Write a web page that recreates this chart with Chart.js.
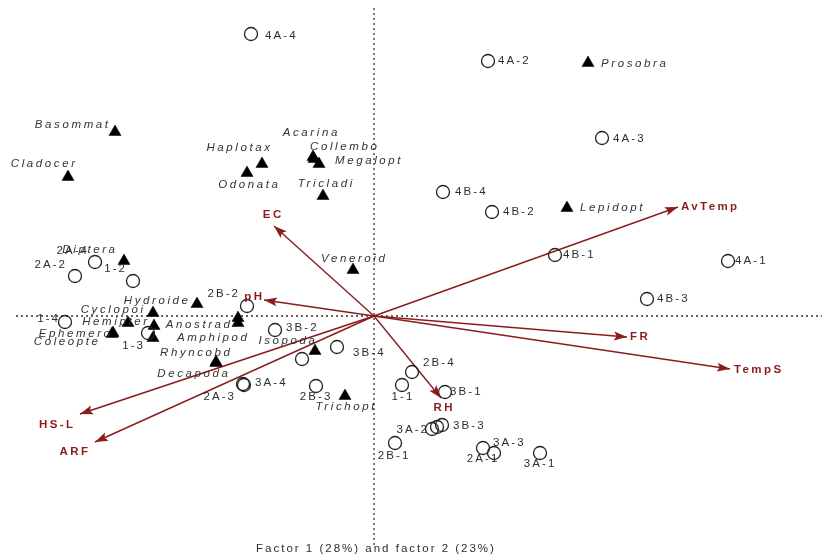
<!DOCTYPE html>
<html><head><meta charset="utf-8">
<script src="https://cdn.jsdelivr.net/npm/chart.js@4.4.0/dist/chart.umd.min.js"></script>
<style>html,body{margin:0;padding:0;background:#fff}#wrap{width:825px;height:556px}</style>
</head><body><div id="wrap"><canvas id="c" width="825" height="556"></canvas></div>
<script>
// ---- data (ordination scores) ----
const siteNames = ['4A-4','4A-2','4A-3','4B-4','4B-2','4B-1','4A-1','4B-3','2A-4','2A-2','1-2','2B-2','1-4','1-3','3B-2','','3B-4','3A-4','2A-3','2B-3','1-1','2B-4','3B-1','3B-3','3A-2','','2B-1','2A-1','3A-3','3A-1'];
const siteX = [-1.23,1.14,2.28,0.69,1.18,1.81,3.54,2.73,-2.79,-2.99,-2.41,-1.27,-3.09,-2.26,-0.99,-0.72,-0.37,-1.31,-1.30,-0.58,0.28,0.38,0.71,0.68,0.58,0.63,0.21,1.09,1.20,1.66];
const siteY = [2.82,2.55,1.78,1.24,1.04,0.61,0.55,0.17,0.54,0.40,0.35,0.10,-0.06,-0.17,-0.14,-0.43,-0.31,-0.68,-0.69,-0.70,-0.69,-0.56,-0.76,-1.09,-1.13,-1.11,-1.27,-1.32,-1.37,-1.37];

const speciesNames = ['Basommat','Cladocer','Haplotax','Odonata','Acarina','Collembo','Megalopt','Tricladi','Veneroid','Prosobra','Lepidopt','Diptera','Hydroide','Cyclopoi','','Hemipter','Ephemero','Coleopte','','Anostrad','Amphipod','Rhyncobd','Decapoda','Isopoda','Trichopt'];
const speciesX = [-2.59,-3.06,-1.12,-1.27,-0.61,-0.60,-0.55,-0.51,-0.21,2.14,1.93,-2.50,-1.77,-2.21,-2.46,-2.20,-2.61,-2.62,-2.21,-1.36,-1.36,-1.58,-1.58,-0.59,-0.29];
const speciesY = [1.84,1.39,1.52,1.43,1.59,1.57,1.52,1.20,0.46,2.53,1.08,0.55,0.12,0.03,-0.07,-0.10,-0.17,-0.18,-0.22,-0.02,-0.07,-0.46,-0.47,-0.35,-0.80];

const envNames = ['EC','AvTemp','pH','FR','TempS','RH','HS-L','ARF'];
const envX = [-1.00,3.04,-1.10,2.53,3.56,0.67,-2.94,-2.79];
const envY = [0.90,1.09,0.16,-0.21,-0.53,-0.82,-0.98,-1.26];

const axisTitle = 'Factor 1 (28%) and factor 2 (23%)';

// ---- layout: label offsets in pixels [dx, dy, align] ----
const siteLabelLayout = [[14,2,'left'],[10,0,'left'],[11,1,'left'],[12,0,'left'],[11,0,'left'],[8,0,'left'],[7,0,'left'],[10,0,'left'],
 [-8,-11,'right'],[-10,-11,'right'],[-8,-12,'right'],[-9,-12,'right'],[-7,-3,'right'],[-5,13,'right'],[11,-2,'left'],[0,0,'left'],
 [16,6,'left'],[12,-1,'left'],[-10,12,'right'],[-1,11,'center'],[0,12,'center'],[11,-9,'left'],[5,0,'left'],[11,1,'left'],
 [-5,1,'right'],[0,0,'left'],[-2,13,'center'],[-1,11,'center'],[-1,-10,'left'],[-1,11,'center']];
const speciesLabelLayout = [[-7,-7,'right'],[7,-13,'right'],[8,-16,'right'],[1,12,'center'],[-3,-24,'center'],[-4,-12,'left'],[16,-3,'left'],
 [2,-12,'center'],[0,-11,'center'],[13,1,'left'],[13,0,'left'],[-9,-11,'right'],[-9,-3,'right'],[-10,-3,'right'],[0,0,'left'],
 [-7,-4,'right'],[-3,1,'right'],[-14,8,'right'],[0,0,'left'],[-8,7,'right'],[9,15,'right'],[14,-9,'right'],[12,11,'right'],[0,-10,'right'],[0,11,'center']];
const envLabelLayout = [[-2,-11,'center'],[3,0,'left'],[-2,-3,'right'],[3,0,'left'],[4,1,'left'],[2,10,'center'],[-7,11,'right'],[-7,10,'right']];

const ARROW = '#8b1c1c';

const sitePts = siteX.map((x,i)=>({x, y: siteY[i]}));
const spPts = speciesX.map((x,i)=>({x, y: speciesY[i]}));
const arrowSets = envNames.map((n,i)=>({
  type:'line', label:n, data:[{x:0,y:0},{x:envX[i],y:envY[i]}],
  borderColor:ARROW, borderWidth:1.4, pointRadius:0, fill:false, showLine:true, order:1
}));

const overlay = {
  id:'overlay',
  beforeDatasetsDraw(chart){
    const {ctx, scales:{x,y}} = chart;
    const x0 = x.getPixelForValue(0), y0 = y.getPixelForValue(0);
    ctx.save();
    ctx.strokeStyle = '#333'; ctx.lineWidth = 1.3; ctx.setLineDash([2,3]);
    ctx.beginPath(); ctx.moveTo(x0, 8); ctx.lineTo(x0, 545); ctx.stroke();
    ctx.beginPath(); ctx.moveTo(16, y0); ctx.lineTo(822, y0); ctx.stroke();
    ctx.restore();
  },
  afterDatasetsDraw(chart){
    const {ctx, scales:{x,y}} = chart;
    const x0 = x.getPixelForValue(0), y0 = y.getPixelForValue(0);
    ctx.save();
    // arrowheads
    ctx.fillStyle = ARROW;
    envNames.forEach((n,i)=>{
      const tx = x.getPixelForValue(envX[i]), ty = y.getPixelForValue(envY[i]);
      const a = Math.atan2(ty-y0, tx-x0);
      const L = 13, W = 4.5;
      ctx.beginPath();
      ctx.moveTo(tx, ty);
      ctx.lineTo(tx - L*Math.cos(a) + W*Math.sin(a), ty - L*Math.sin(a) - W*Math.cos(a));
      ctx.lineTo(tx - L*Math.cos(a)*0.8, ty - L*Math.sin(a)*0.8);
      ctx.lineTo(tx - L*Math.cos(a) - W*Math.sin(a), ty - L*Math.sin(a) + W*Math.cos(a));
      ctx.closePath(); ctx.fill();
    });
    ctx.textBaseline = 'middle';
    const put = (txt, px, py, lay) => {
      if(!txt) return;
      ctx.textAlign = lay[2];
      let ox = 0;
      if (lay[2]==='right') ox = parseFloat(ctx.letterSpacing)||0;
      if (lay[2]==='center') ox = (parseFloat(ctx.letterSpacing)||0)/2;
      ctx.fillText(txt, px + lay[0] + ox, py + lay[1]);
    };
    // env labels
    ctx.font = 'bold 11.5px "Liberation Sans", Arial, sans-serif';
    ctx.letterSpacing = '2.4px';
    ctx.fillStyle = ARROW;
    envNames.forEach((n,i)=> put(n, x.getPixelForValue(envX[i]), y.getPixelForValue(envY[i]), envLabelLayout[i]));
    // site labels
    ctx.font = '11.5px "Liberation Sans", Arial, sans-serif';
    ctx.letterSpacing = '2.1px';
    ctx.fillStyle = '#2e2e2e';
    siteNames.forEach((n,i)=> put(n, x.getPixelForValue(siteX[i]), y.getPixelForValue(siteY[i]), siteLabelLayout[i]));
    // species labels
    ctx.font = 'italic 11.5px "Liberation Sans", Arial, sans-serif';
    ctx.letterSpacing = '2.6px';
    ctx.fillStyle = '#333';
    speciesNames.forEach((n,i)=> put(n, x.getPixelForValue(speciesX[i]), y.getPixelForValue(speciesY[i]), speciesLabelLayout[i]));
    // axis caption
    ctx.font = '11.5px "Liberation Sans", Arial, sans-serif';
    ctx.letterSpacing = '2px';
    ctx.fillStyle = '#2e2e2e';
    ctx.textAlign = 'center';
    ctx.fillText(axisTitle, x0 + 2, 549);
    ctx.restore();
  }
};

new Chart(document.getElementById('c'), {
  type:'scatter',
  data:{ datasets:[
    ...arrowSets,
    { label:'Sites', data:sitePts, pointStyle:'circle', pointRadius:6.5, pointBorderWidth:1.3,
      pointBorderColor:'#222', pointBackgroundColor:'rgba(0,0,0,0)', showLine:false, order:0 },
    { label:'Species', data:spPts, pointStyle:'triangle', pointRadius:7, pointBorderWidth:0.5,
      pointBorderColor:'#000', pointBackgroundColor:'#000', showLine:false, order:0 }
  ]},
  options:{
    responsive:false, animation:false, devicePixelRatio:1,
    layout:{padding:0, autoPadding:false},
    plugins:{ legend:{display:false}, tooltip:{enabled:false} },
    scales:{
      x:{ type:'linear', min:-3.74, max:4.51, display:false },
      y:{ type:'linear', min:-2.40, max:3.16, display:false }
    }
  },
  plugins:[overlay]
});
</script></body></html>
